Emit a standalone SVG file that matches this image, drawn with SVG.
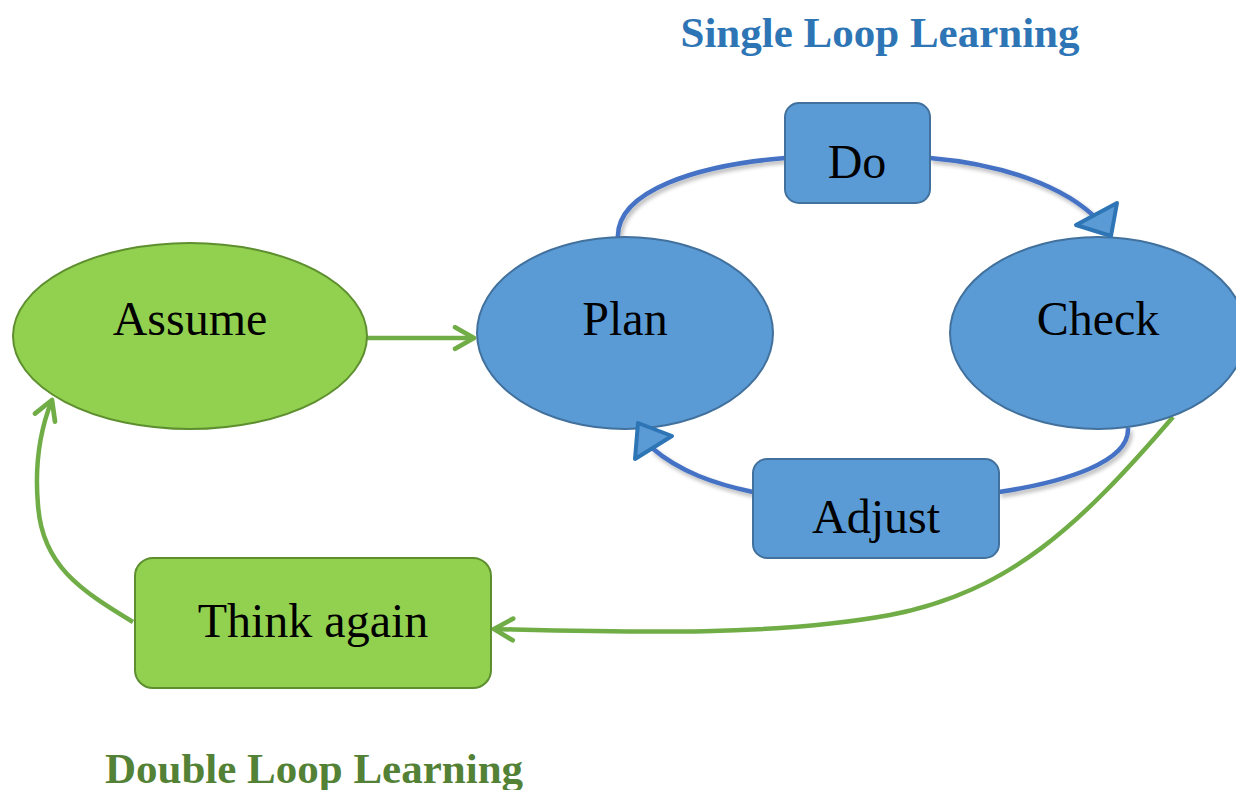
<svg xmlns="http://www.w3.org/2000/svg" width="1236" height="790" viewBox="0 0 1236 790">
<style>
.lbl{font-family:"Liberation Serif","Times New Roman",serif;font-size:48px;fill:#000;text-anchor:middle}
.title{font-family:"Liberation Serif","Times New Roman",serif;font-size:43px;font-weight:bold}
.bnode{fill:#5b9bd5;stroke:#41719c;stroke-width:2}
.gnode{fill:#92d050;stroke:#5e8f2f;stroke-width:2}
.bline{fill:none;stroke:#4472c4;stroke-width:4.5;filter:url(#sh)}
.gline{fill:none;stroke:#70ad47;stroke-width:4.5}
.bhead{fill:#5b9bd5;stroke:#2e75b6;stroke-width:4;stroke-linejoin:round}
</style>
<defs>
<filter id="sh" x="-10%" y="-10%" width="130%" height="130%">
<feGaussianBlur in="SourceAlpha" stdDeviation="2"/>
<feOffset dx="2" dy="3"/>
<feComponentTransfer><feFuncA type="linear" slope="0.3"/></feComponentTransfer>
<feMerge><feMergeNode/><feMergeNode in="SourceGraphic"/></feMerge>
</filter>
<marker id="chev" viewBox="0 0 20 20" refX="17" refY="10" markerWidth="6" markerHeight="6" markerUnits="strokeWidth" orient="auto">
<path d="M3,2 L17,10 L3,18" fill="none" stroke="#70ad47" stroke-width="3.5" stroke-linecap="round" stroke-linejoin="round"/>
</marker>
</defs>
<rect width="1236" height="790" fill="#fff"/>
<text class="title" x="880" y="47" text-anchor="middle" fill="#2e75b6">Single Loop Learning</text>
<text class="title" x="314" y="783" text-anchor="middle" fill="#538135">Double Loop Learning</text>
<g id="connectors">
<path class="bline" d="M618,240 C614,190 700,165 785,158"/>
<path class="bline" d="M930,158 C1000,164 1065,185 1100,222"/>
<path class="bline" d="M1128,428 C1130,462 1065,482 999,492"/>
<path class="bline" d="M753,492 C715,484 680,472 652,448"/>
<path class="gline" d="M366,338 L474,338" marker-end="url(#chev)"/>
<path class="gline" d="M1173,417 C1080,525 1010,592 890,615 C770,637 620,632 494,629" marker-end="url(#chev)"/>
<path class="gline" d="M133,622 C80,590 42,565 38,505 C34,460 42,425 52,400" marker-end="url(#chev)"/>
</g>
<g id="assume"><ellipse class="gnode" cx="190" cy="336" rx="177" ry="93"/><text class="lbl" x="190" y="335">Assume</text></g>
<g id="plan"><ellipse class="bnode" cx="625" cy="333" rx="148" ry="96"/><text class="lbl" x="625" y="335">Plan</text></g>
<g id="check"><ellipse class="bnode" cx="1098" cy="333" rx="148" ry="96"/><text class="lbl" x="1098" y="335">Check</text></g>
<g id="do"><rect class="bnode" x="785" y="103" width="145" height="100" rx="14"/><text class="lbl" x="857" y="178">Do</text></g>
<g id="adjust"><rect class="bnode" x="753" y="459" width="246" height="99" rx="14"/><text class="lbl" x="876" y="533">Adjust</text></g>
<g id="think-again"><rect class="gnode" x="135" y="558" width="356" height="130" rx="18"/><text class="lbl" x="313" y="637">Think again</text></g>
<g id="arrowheads">
<polygon class="bhead" points="1117,203 1076,225 1111,236"/>
<polygon class="bhead" points="638,423 635,459 672,436"/>
</g>
</svg>
